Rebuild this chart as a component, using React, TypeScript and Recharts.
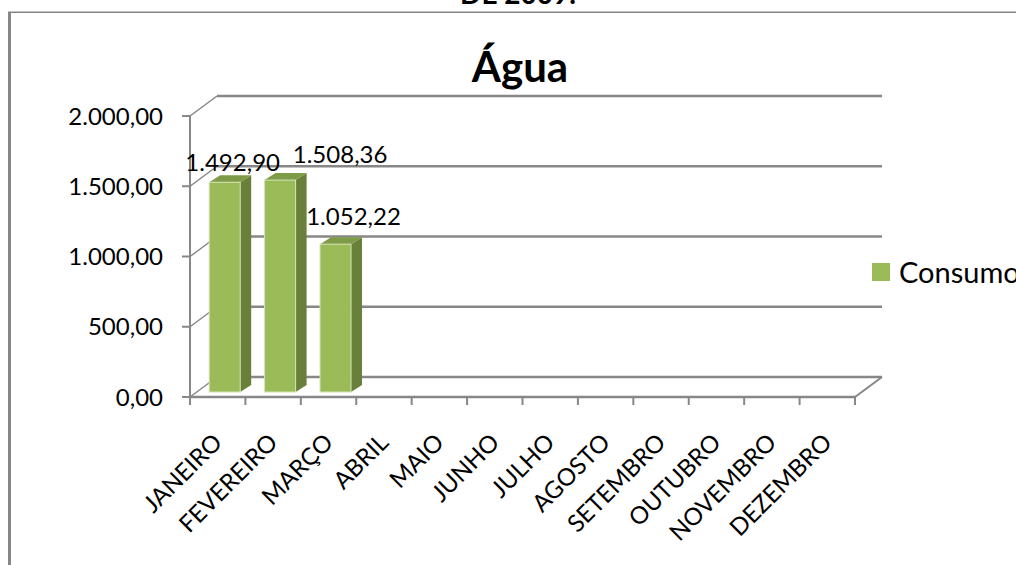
import React from 'react';
import { BarChart, Bar, XAxis, YAxis, CartesianGrid, LabelList, Legend } from 'recharts';

// ---- data ----
const months = ['JANEIRO', 'FEVEREIRO', 'MARÇO', 'ABRIL', 'MAIO', 'JUNHO', 'JULHO', 'AGOSTO', 'SETEMBRO', 'OUTUBRO', 'NOVEMBRO', 'DEZEMBRO'];
const consumo: (number | null)[] = [1492.9, 1508.36, 1052.22, null, null, null, null, null, null, null, null, null];
const yTicks = [0, 500, 1000, 1500, 2000];
const seriesName = 'Consumo';
const chartTitle = 'Água';
const pageHeading = 'DE 2009.';

const data = months.map((m, i) => ({ month: m, consumo: consumo[i] }));

// ---- layout / style ----
const W = 1016;
const H = 565;
const MARGIN = { top: 116, right: 161, bottom: 0, left: 0 };
const Y_AXIS_W = 190;
const X_AXIS_H = 168;
const PLOT_BOTTOM = H - MARGIN.bottom - X_AXIS_H;
const PLOT_W = W - MARGIN.left - MARGIN.right - Y_AXIS_W;
const DEPTH_X = 27;
const DEPTH_Y = -20;
const BAR_SHIFT_X = 7;
const BAR_SHIFT_Y = -5;
const SIDE_X = 11;
const SIDE_Y = -7;
const GRID = '#878787';
const FRONT = '#9BBB59';
const SIDE = '#69803A';
const TOP = '#7E9B47';
const FONT = 'Lato, "Open Sans", sans-serif';
const TEXT_SIZE = 24;
const LABEL_OFFSETS: [number, number][] = [[8, -19], [60, -25], [18, -27]];

const fmt = (v: number) => {
  const [i, d] = v.toFixed(2).split('.');
  return i.replace(/\B(?=(\d{3})+(?!\d))/g, '.') + ',' + d;
};

const gridLine = (p: any) => {
  const { x1, y1, x2, y2 } = p;
  const isFloor = Math.abs(y1 - PLOT_BOTTOM) < 1;
  return (
    <g key={`g-${y1}`}>
      <line x1={x1 + DEPTH_X} y1={y1 + DEPTH_Y} x2={x2 + DEPTH_X} y2={y2 + DEPTH_Y} stroke={GRID} strokeWidth={2.5} />
      <line x1={x1} y1={y1} x2={x1 + DEPTH_X} y2={y1 + DEPTH_Y} stroke={GRID} strokeWidth={1.5} />
      {isFloor && <line x1={x2} y1={y2} x2={x2 + DEPTH_X} y2={y2 + DEPTH_Y} stroke={GRID} strokeWidth={2} />}
    </g>
  );
};

const Bar3D = (p: any) => {
  const { x, y, width, height } = p;
  if (!height || height <= 0) return <g />;
  const fx = x + BAR_SHIFT_X;
  const fy = y + BAR_SHIFT_Y;
  const side = `${fx + width},${fy} ${fx + width + SIDE_X},${fy + SIDE_Y} ${fx + width + SIDE_X},${fy + height + SIDE_Y} ${fx + width},${fy + height}`;
  const top = `${fx},${fy} ${fx + SIDE_X},${fy + SIDE_Y} ${fx + width + SIDE_X},${fy + SIDE_Y} ${fx + width},${fy}`;
  return (
    <g>
      <polygon points={side} fill={SIDE} />
      <polygon points={top} fill={TOP} />
      <rect x={fx} y={fy} width={width} height={height} fill={FRONT} stroke="#D3E2B6" strokeWidth={1} />
    </g>
  );
};

const renderLabel = (p: any) => {
  const { x, y, width, value, index } = p;
  if (value == null) return null;
  const off = LABEL_OFFSETS[index] || [15, -22];
  const cx = x + width / 2 + BAR_SHIFT_X + off[0];
  const cy = y + BAR_SHIFT_Y + off[1];
  return (
    <text x={cx} y={cy + 8} textAnchor="middle" fontFamily={FONT} fontSize={TEXT_SIZE} fill="#000">
      {fmt(Number(value))}
    </text>
  );
};

const XTick = (p: any) => {
  const { x, payload, index } = p;
  const band = PLOT_W / months.length;
  const ax = x + 6;
  const ay = PLOT_BOTTOM + 47;
  return (
    <g>
      <line x1={x - band / 2} y1={PLOT_BOTTOM} x2={x - band / 2} y2={PLOT_BOTTOM + 8} stroke={GRID} strokeWidth={2} />
      {index === months.length - 1 && (
        <line x1={x + band / 2} y1={PLOT_BOTTOM} x2={x + band / 2} y2={PLOT_BOTTOM + 8} stroke={GRID} strokeWidth={2} />
      )}
      <text x={ax} y={ay} transform={`rotate(-45 ${ax} ${ay})`} textAnchor="end" fontFamily={FONT} fontSize={TEXT_SIZE} fill="#000">
        {payload.value}
      </text>
    </g>
  );
};

const renderLegend = (props: any) => {
  const items = (props.payload || []) as any[];
  return (
    <div style={{ whiteSpace: 'nowrap' }}>
      {items.map((it, i) => (
        <div key={i} style={{ display: 'flex', alignItems: 'center', fontFamily: FONT, fontSize: 29, color: '#000', lineHeight: '34px' }}>
          <span style={{ display: 'inline-block', width: 18, height: 18, background: FRONT, marginRight: 9 }} />
          {it.value}
        </div>
      ))}
    </div>
  );
};

export default function App() {
  return (
    <div style={{ position: 'absolute', left: 0, top: 0, width: W, height: H, overflow: 'hidden', background: '#fff' }}>
      <svg width={W} height={H} style={{ position: 'absolute', left: 0, top: 0 }}>
        <text x={518} y={4} textAnchor="middle" fontFamily={FONT} fontWeight={700} fontSize={28} fill="#000">
          {pageHeading}
        </text>
        <rect x={8} y={11.5} width={W - 8} height={1.5} fill="#868686" />
        <rect x={8} y={12} width={3} height={H - 12} fill="#868686" />
        <text x={520} y={82} textAnchor="middle" fontFamily={FONT} fontWeight={700} fontSize={42} fill="#000">
          {chartTitle}
        </text>
      </svg>
      <div style={{ position: 'absolute', left: 0, top: 0 }}>
        <BarChart width={W} height={H} data={data} margin={MARGIN} barCategoryGap="22%">
          <CartesianGrid vertical={false} horizontal={gridLine} />
          <XAxis
            dataKey="month"
            height={X_AXIS_H}
            interval={0}
            tickLine={false}
            axisLine={{ stroke: GRID, strokeWidth: 2.5 }}
            tick={<XTick />}
          />
          <YAxis
            domain={[0, 2000]}
            ticks={yTicks}
            interval={0}
            width={Y_AXIS_W}
            tickFormatter={fmt}
            tickSize={8}
            tickMargin={19}
            axisLine={{ stroke: GRID, strokeWidth: 2 }}
            tickLine={{ stroke: GRID, strokeWidth: 2 }}
            tick={{ fill: '#000', fontSize: TEXT_SIZE, fontFamily: FONT }}
          />
          <Legend
            layout="horizontal"
            verticalAlign="middle"
            align="center"
            wrapperStyle={{ left: 872, top: 255, width: 200 }}
            content={renderLegend}
          />
          <Bar dataKey="consumo" name={seriesName} fill={FRONT} isAnimationActive={false} shape={Bar3D}>
            <LabelList dataKey="consumo" content={renderLabel} />
          </Bar>
        </BarChart>
      </div>
    </div>
  );
}
